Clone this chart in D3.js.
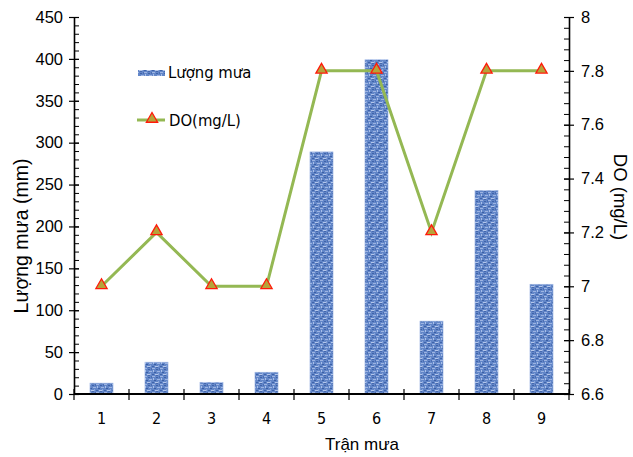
<!DOCTYPE html>
<html>
<head>
<meta charset="utf-8">
<script src="https://cdn.jsdelivr.net/npm/d3@7"></script>
<style>
  body { margin: 0; background: #fff; }
  svg { display: block; font-family: "Liberation Sans", Arial, sans-serif; }
</style>
</head>
<body>
<svg id="chart" width="633" height="457"></svg>
<script>
// data
const storms = ['1', '2', '3', '4', '5', '6', '7', '8', '9'];
const rainfall = [13, 38, 14, 26, 289, 399, 87, 243, 131];
const dissolvedO2 = [7, 7.2, 7, 7, 7.8, 7.8, 7.2, 7.8, 7.8];
const rainTicks = [0, 50, 100, 150, 200, 250, 300, 350, 400, 450];
const doTicks = [6.6, 6.8, 7, 7.2, 7.4, 7.6, 7.8, 8];

const svg = d3.select('#chart');
const plotLeft = 74, plotRight = 569, plotTop = 17, plotBottom = 394;
const narrow = '"Liberation Sans Narrow", "DejaVu Sans Condensed", sans-serif';

const x = d3.scaleBand().domain(storms).range([plotLeft, plotRight]).paddingInner(0.58).paddingOuter(0.29);
const xEdge = d3.scaleLinear().domain([0, storms.length]).range([plotLeft, plotRight]);
const yRain = d3.scaleLinear().domain([0, 450]).range([plotBottom, plotTop]);
const yDO = d3.scaleLinear().domain([6.6, 8]).range([plotBottom, plotTop]);

// bar texture (blue, speckled)
const defs = svg.append('defs');
const pat = defs.append('pattern')
    .attr('id', 'tex')
    .attr('patternUnits', 'userSpaceOnUse')
    .attr('width', 8).attr('height', 8);
pat.append('rect').attr('width', 8).attr('height', 8).attr('fill', '#6286c8');
const specks = [
    [0, 0, 3, 1, '#9db4e2'], [4, 1, 2, 1, '#3f63a9'], [1, 2, 1, 2, '#a9bfe8'],
    [5, 3, 3, 1, '#9db4e2'], [2, 4, 2, 1, '#3a5ea4'], [6, 5, 1, 2, '#8aa6dc'],
    [0, 6, 2, 1, '#3f63a9'], [3, 6, 3, 1, '#b3c6ea'], [7, 0, 1, 2, '#4a6db2'],
    [4, 7, 2, 1, '#4668ad']
];
specks.forEach(s => pat.append('rect')
    .attr('x', s[0]).attr('y', s[1]).attr('width', s[2]).attr('height', s[3]).attr('fill', s[4]));

// bars
svg.append('g').selectAll('rect')
    .data(rainfall)
    .join('rect')
    .attr('x', (d, i) => x(storms[i]))
    .attr('y', d => yRain(d))
    .attr('width', x.bandwidth())
    .attr('height', d => plotBottom - yRain(d))
    .attr('fill', 'url(#tex)')
    .attr('stroke', '#a9bfe8')
    .attr('stroke-width', 0.6);

// axes
const axisStyle = g => {
    g.selectAll('path, line').attr('stroke', '#000');
    g.select('.domain').attr('stroke-width', 1.6);
};

// left axis: minor ticks inside, major ticks crossing
const gL = svg.append('g').attr('transform', `translate(${plotLeft},0)`);
gL.append('g')
  .call(d3.axisRight(yRain).tickValues(d3.range(0, 451, 10)).tickSize(5).tickFormat(''))
  .call(g => g.select('.domain').remove());
gL.append('g')
  .call(d3.axisLeft(yRain).tickValues(rainTicks).tickSize(5).tickSizeOuter(0).tickPadding(6))
  .call(axisStyle)
  .call(g => g.selectAll('.tick line').attr('x2', -5).attr('x1', 5).attr('stroke-width', 1.2))
  .call(g => g.selectAll('text').attr('font-size', 16.5).attr('fill', '#000'));
gL.selectAll('line').attr('stroke', '#000');

// right axis
const gR = svg.append('g').attr('transform', `translate(${plotRight},0)`);
gR.append('g')
  .call(d3.axisLeft(yDO).tickValues(d3.range(0, 36).map(i => 6.6 + i * 0.04)).tickSize(5).tickFormat(''))
  .call(g => g.select('.domain').remove());
gR.append('g')
  .call(d3.axisRight(yDO).tickValues(doTicks).tickSize(5).tickSizeOuter(0).tickPadding(7).tickFormat(d3.format('~g')))
  .call(axisStyle)
  .call(g => g.selectAll('.tick line').attr('x1', -5).attr('x2', 5).attr('stroke-width', 1.2))
  .call(g => g.selectAll('text').attr('font-size', 16.5).attr('fill', '#000'));
gR.selectAll('line').attr('stroke', '#000');

// bottom axis: ticks on band edges
const gB = svg.append('g').attr('transform', `translate(0,${plotBottom})`);
gB.append('line').attr('x1', plotLeft).attr('x2', plotRight).attr('stroke', '#000').attr('stroke-width', 1.8);
gB.selectAll('line.edge')
    .data(d3.range(0, storms.length + 1))
    .join('line')
    .attr('class', 'edge')
    .attr('x1', d => xEdge(d)).attr('x2', d => xEdge(d))
    .attr('y1', -5).attr('y2', 6)
    .attr('stroke', '#000').attr('stroke-width', 1.2);
gB.selectAll('text')
    .data(storms)
    .join('text')
    .attr('x', d => x(d) + x.bandwidth() / 2)
    .attr('y', 30)
    .attr('text-anchor', 'middle')
    .attr('font-family', narrow)
    .attr('font-size', 16)
    .text(d => d);

// DO line with triangle markers
const cx = i => x(storms[i]) + x.bandwidth() / 2;
svg.append('path')
    .datum(dissolvedO2)
    .attr('d', d3.line().x((d, i) => cx(i)).y(d => yDO(d)))
    .attr('fill', 'none')
    .attr('stroke', '#94b853')
    .attr('stroke-width', 3);

const tri = d3.symbol().type(d3.symbolTriangle).size(55);
svg.append('g').selectAll('path')
    .data(dissolvedO2)
    .join('path')
    .attr('transform', (d, i) => `translate(${cx(i)},${yDO(d) - 1})`)
    .attr('d', tri)
    .attr('fill', '#b6a43a')
    .attr('stroke', '#ff1a0a')
    .attr('stroke-width', 1.3);

// axis titles
svg.append('text')
    .attr('transform', 'translate(28,236) rotate(-90)')
    .attr('text-anchor', 'middle')
    .attr('font-size', 19.5)
    .text('Lượng mưa (mm)');
svg.append('text')
    .attr('transform', 'translate(614,197) rotate(90)')
    .attr('text-anchor', 'middle')
    .attr('font-size', 18.5)
    .text('DO (mg/L)');
svg.append('text')
    .attr('x', 362)
    .attr('y', 450)
    .attr('text-anchor', 'middle')
    .attr('font-size', 17)
    .text('Trận mưa');

// legend
const leg = svg.append('g');
leg.append('rect').attr('x', 138).attr('y', 70).attr('width', 27).attr('height', 6).attr('fill', 'url(#tex)');
leg.append('text').attr('x', 168).attr('y', 78).attr('font-family', narrow).attr('font-size', 16.5).text('Lượng mưa');
leg.append('line').attr('x1', 137).attr('x2', 165).attr('y1', 120).attr('y2', 120)
    .attr('stroke', '#94b853').attr('stroke-width', 3);
leg.append('path').attr('transform', 'translate(152,119)').attr('d', tri)
    .attr('fill', '#b6a43a').attr('stroke', '#ff1a0a').attr('stroke-width', 1.3);
leg.append('text').attr('x', 169).attr('y', 126).attr('font-family', narrow).attr('font-size', 16.5).text('DO(mg/L)');
</script>
</body>
</html>
